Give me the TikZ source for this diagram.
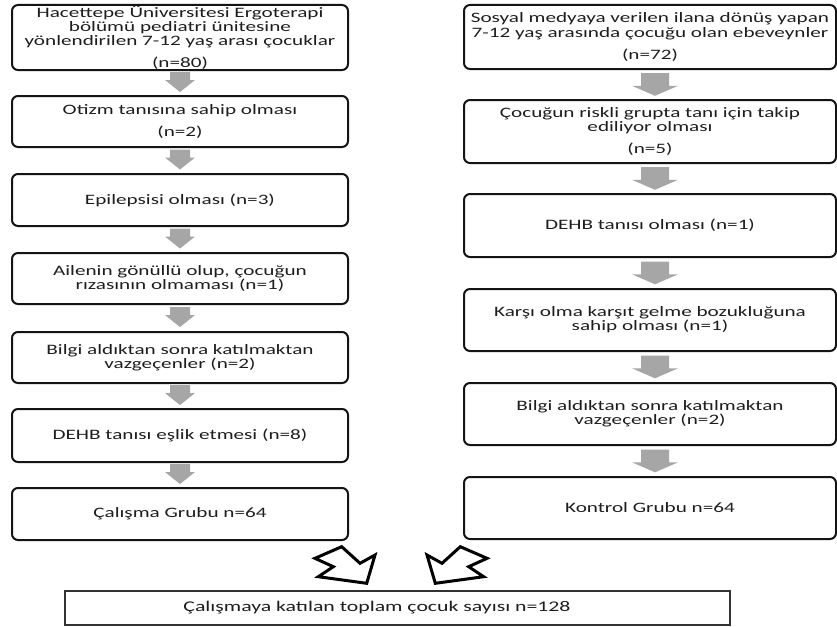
\documentclass[tikz,border=0pt]{standalone}
\usepackage{fontspec}
\setmainfont[FakeStretch=1.47]{Carlito}
\usetikzlibrary{calc}
\definecolor{arrowgray}{HTML}{A6A6A6}
\definecolor{txt}{HTML}{1E1E1E}
\tikzset{
  box/.style={draw=black!92, line width=2pt, rounded corners=6pt, align=center,
    inner sep=0pt, font=\fontsize{14.4}{14.2}\selectfont, text=txt},
  lbox/.style={box, minimum width=336pt},
  rbox/.style={box, minimum width=372pt},
  totalbox/.style={draw=black!80, line width=1.4pt, inner sep=0pt, align=center,
    minimum width=665pt, minimum height=34pt, font=\fontsize{14.8}{14.2}\selectfont, text=txt},
  hollow/.style={draw=black, line width=3pt, line join=miter, fill=white},
  garrowL/.pic={\fill[arrowgray] (-10,-10) -- (10,-10) -- (10,-2) -- (15,-2) -- (0,10) -- (-15,-2) -- (-10,-2) -- cycle;},
  garrowR/.pic={\fill[arrowgray] (-14,-11.3) -- (14,-11.3) -- (14,1.3) -- (23,1.3) -- (0,11.3) -- (-23,1.3) -- (-14,1.3) -- cycle;}
}
\begin{document}
\begin{tikzpicture}[x=1pt,y=-1pt]
\useasboundingbox (0,0) rectangle (837,626);
\fill[white] (0,0) rectangle (837,626);
% left column
\node[lbox, minimum height=65pt] (L1) at (180,37.5) {Hacettepe Üniversitesi Ergoterapi\\ bölümü pediatri ünitesine\\ yönlendirilen 7-12 yaş arası çocuklar\\[7pt] (n=80)};
\node[lbox, minimum height=51pt] (L2) at (180,121.5) {Otizm tanısına sahip olması\\[7pt] (n=2)};
\node[lbox, minimum height=52pt] (L3) at (180,200) {Epilepsisi olması (n=3)};
\node[lbox, minimum height=51pt] (L4) at (180,278.5) {Ailenin gönüllü olup, çocuğun\\ rızasının olmaması (n=1)};
\node[lbox, minimum height=51pt] (L5) at (180,357.5) {Bilgi aldıktan sonra katılmaktan\\ vazgeçenler (n=2)};
\node[lbox, minimum height=53pt] (L6) at (180,435.5) {DEHB tanısı eşlik etmesi (n=8)};
\node[lbox, minimum height=52pt] (L7) at (180,514) {Çalışma Grubu n=64};
% right column
\node[rbox, minimum height=64pt] (R1) at (650,37) {Sosyal medyaya verilen ilana dönüş yapan\\ 7-12 yaş arasında çocuğu olan ebeveynler\\[8pt] (n=72)};
\node[rbox, minimum height=63pt] (R2) at (650,131.5) {Çocuğun riskli grupta tanı için takip\\ ediliyor olması\\[8pt] (n=5)};
\node[rbox, minimum height=63pt] (R3) at (650,225.5) {DEHB tanısı olması (n=1)};
\node[rbox, minimum height=62pt] (R4) at (650,320) {Karşı olma karşıt gelme bozukluğuna\\ sahip olması (n=1)};
\node[rbox, minimum height=62pt] (R5) at (650,414) {Bilgi aldıktan sonra katılmaktan\\ vazgeçenler (n=2)};
\node[rbox, minimum height=62pt] (R6) at (650,508) {Kontrol Grubu n=64};
% total
\node[totalbox] (T) at (397.5,608) {Çalışmaya katılan toplam çocuk sayısı n=128\hspace*{41pt}};
% gray arrows
\foreach \a/\b in {L1/L2,L2/L3,L3/L4,L4/L5,L5/L6,L6/L7}
  \pic at ($(\a.south)!0.5!(\b.north)+(0,-1)$) {garrowL};
\foreach \a/\b in {R1/R2,R2/R3,R3/R4,R4/R5,R5/R6}
  \pic at ($(\a.south)!0.5!(\b.north)+(5,0)$) {garrowR};
% hollow block arrows toward total box
\draw[hollow] (315,558.3) -- (341.7,546.7) -- (360,563.3) -- (375,555) -- (366.7,583.3) -- (318.3,576.7) -- (333.3,566.7) -- cycle;
\draw[hollow] (487,558.3) -- (460.3,546.7) -- (442,563.3) -- (427,555) -- (435.3,583.3) -- (483.7,576.7) -- (468.7,566.7) -- cycle;
\end{tikzpicture}
\end{document}
